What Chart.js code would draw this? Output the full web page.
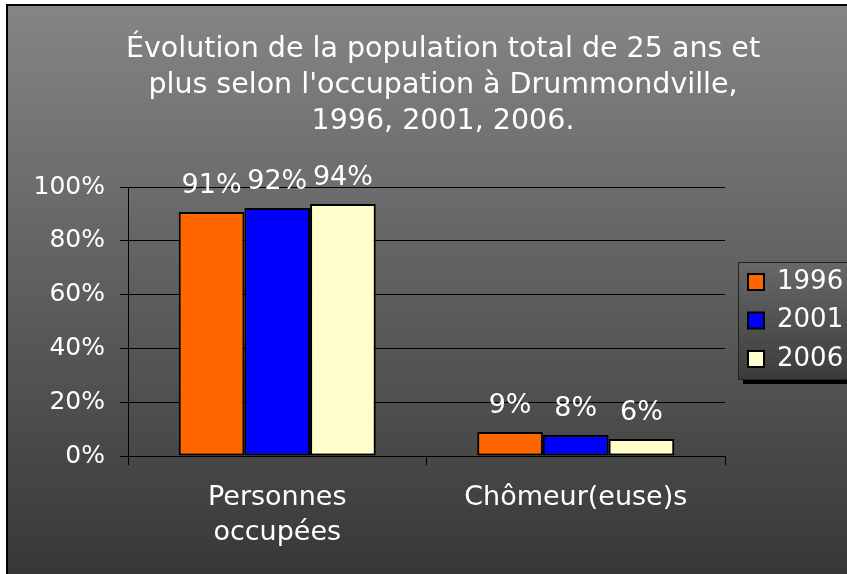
<!DOCTYPE html>
<html>
<head>
<meta charset="utf-8">
<script src="https://cdn.jsdelivr.net/npm/chart.js@4/dist/chart.umd.min.js"></script>
<style>
  body { margin: 0; background: #fff; }
  #frame {
    position: absolute; left: 6px; top: 4px; width: 841px; height: 570px;
    border-top: 2px solid #000; border-left: 2px solid #000;
    background: linear-gradient(#858585, #373737);
  }
  #chart { position: absolute; left: 0; top: 0; }
</style>
</head>
<body>
<div id="frame"></div>
<canvas id="chart" width="847" height="574"></canvas>
<script>
// données
const categories = [['Personnes', 'occupées'], 'Chômeur(euse)s'];
const annees = ['1996', '2001', '2006'];
const valeurs1996 = [90.7, 8.9];
const valeurs2001 = [92.2, 7.8];
const valeurs2006 = [93.7, 6.3];
const couleurs = ['#ff6600', '#0000ff', '#ffffcc'];
const titre = [
    'Évolution de la population total de 25 ans et',
    "plus selon l'occupation à Drummondville,",
    '1996, 2001, 2006.'
];
const police = 'DejaVu Sans';

// titre dessiné à la main pour le centrer sur toute l'image
const titrePlugin = {
    id: 'titre',
    afterDraw(chart) {
        const ctx = chart.ctx;
        ctx.save();
        ctx.fillStyle = '#fff';
        ctx.font = '28.5px "' + police + '"';
        ctx.textAlign = 'center';
        ctx.textBaseline = 'alphabetic';
        titre.forEach((ligne, i) => {
            ctx.fillText(ligne, 443, 57 + i * 36);
        });
        ctx.restore();
    }
};

// étiquettes au-dessus des barres
const etiquettesPlugin = {
    id: 'etiquettes',
    afterDatasetsDraw(chart) {
        const ctx = chart.ctx;
        ctx.save();
        ctx.fillStyle = '#fff';
        ctx.font = '27px "' + police + '"';
        ctx.textAlign = 'center';
        ctx.textBaseline = 'alphabetic';
        chart.data.datasets.forEach((ds, i) => {
            chart.getDatasetMeta(i).data.forEach((bar, j) => {
                ctx.fillText(Math.round(ds.data[j]) + '%', bar.x, bar.y - 19);
            });
        });
        ctx.restore();
    }
};

// légende avec cadre et ombre
const legendePlugin = {
    id: 'legende',
    afterDraw(chart) {
        const ctx = chart.ctx;
        const x = 738, y = 262, w = 120, h = 117;
        ctx.save();
        ctx.fillStyle = '#000';
        ctx.fillRect(x + 5, y + 5, w, h);
        const grad = ctx.createLinearGradient(0, y, 0, y + h);
        grad.addColorStop(0, '#686868');
        grad.addColorStop(1, '#3c3c3c');
        ctx.fillStyle = grad;
        ctx.fillRect(x, y, w, h);
        ctx.strokeStyle = '#222';
        ctx.lineWidth = 1;
        ctx.strokeRect(x + 0.5, y + 0.5, w, h);
        ctx.font = '26px "' + police + '"';
        ctx.textBaseline = 'middle';
        ctx.textAlign = 'left';
        chart.data.datasets.forEach((ds, i) => {
            const cy = 282 + i * 38.5;
            ctx.fillStyle = ds.backgroundColor;
            ctx.fillRect(748, cy - 8, 16, 16);
            ctx.strokeStyle = '#000';
            ctx.lineWidth = 2;
            ctx.strokeRect(748, cy - 8, 16, 16);
            ctx.fillStyle = '#fff';
            ctx.fillText(ds.label, 777, cy);
        });
        ctx.restore();
    }
};

const series = [valeurs1996, valeurs2001, valeurs2006];

new Chart(document.getElementById('chart'), {
    type: 'bar',
    data: {
        labels: categories,
        datasets: annees.map((a, i) => ({
            label: a,
            data: series[i],
            backgroundColor: couleurs[i],
            borderColor: '#000',
            borderWidth: 2,
            borderSkipped: false,
            categoryPercentage: 0.66,
            barPercentage: 1
        }))
    },
    options: {
        responsive: false,
        animation: false,
        layout: { padding: { top: 187, right: 122, bottom: 0, left: 0 } },
        plugins: {
            legend: { display: false },
            title: { display: false },
            tooltip: { enabled: false }
        },
        scales: {
            x: {
                afterFit(scale) { scale.height = 118; },
                grid: { offset: true, drawOnChartArea: false, color: '#000', tickLength: 9 },
                border: { color: '#000' },
                ticks: {
                    color: '#fff',
                    padding: 15,
                    font: { family: police, size: 27, lineHeight: 1.3 }
                }
            },
            y: {
                min: 0,
                max: 100,
                afterFit(scale) { scale.width = 128; },
                grid: { color: '#000', tickLength: 8 },
                border: { color: '#000' },
                ticks: {
                    stepSize: 20,
                    color: '#fff',
                    padding: 15,
                    font: { family: police, size: 25 },
                    callback: (v) => v + '%'
                }
            }
        }
    },
    plugins: [titrePlugin, etiquettesPlugin, legendePlugin]
});
</script>
</body>
</html>
